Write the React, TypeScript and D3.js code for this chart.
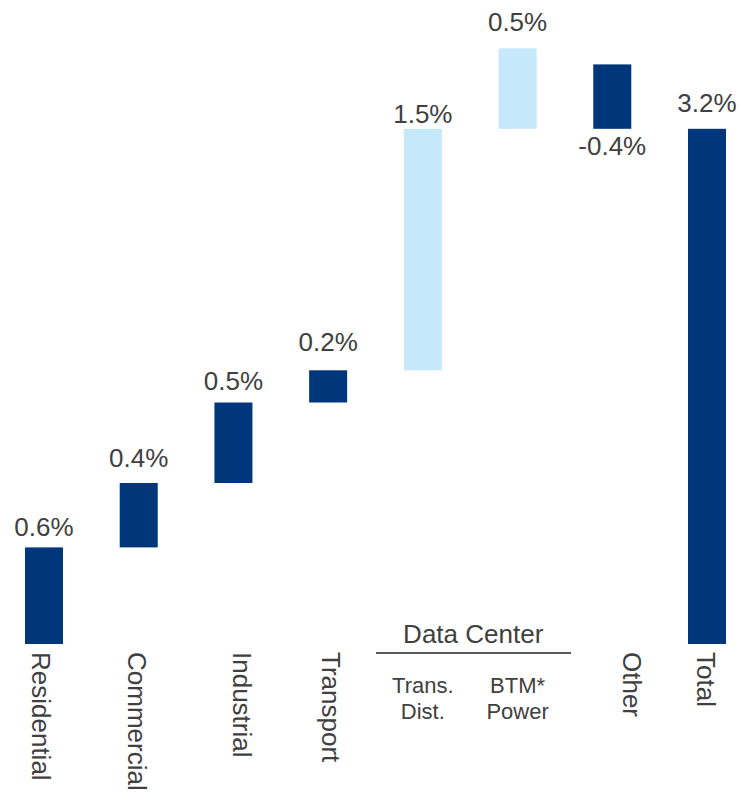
import { useEffect, useRef } from 'react';
import * as d3 from 'd3';

const categories = ['Residential', 'Commercial', 'Industrial', 'Transport', 'Trans. Dist.', 'BTM* Power', 'Other', 'Total'];
const values = [0.6, 0.4, 0.5, 0.2, 1.5, 0.5, -0.4, 3.2];
const valueLabels = ['0.6%', '0.4%', '0.5%', '0.2%', '1.5%', '0.5%', '-0.4%', '3.2%'];
const dataCenter = [false, false, false, false, true, true, false, false];
const rotatedLabels = ['Residential', 'Commercial', 'Industrial', 'Transport', '', '', 'Other', 'Total'];
const stackedLabels = [[], [], [], [], ['Trans.', 'Dist.'], ['BTM*', 'Power'], [], []];

// layout tweaks (pixels) for label placement
const labelGap = [11, 16, 13, 19, 6, 17, 26, 17];
const rotatedShift = [-12, -11, 0, -6, 0, 0, 11, -10];

const width = 741;
const height = 792;
const navy = '#00367A';
const lightBlue = '#C5E8FB';
const textColor = '#404040';
const font = '"Liberation Sans", Arial, sans-serif';

const App = () => {
  const svgRef = useRef<SVGSVGElement>(null);

  useEffect(() => {
    if (!svgRef.current) return;
    const svg = d3.select(svgRef.current);
    svg.selectAll('*').remove();

    const x = d3.scalePoint<string>().domain(categories).range([44, 707]);
    const y = d3.scaleLinear().domain([0, 4]).range([644, 0]);
    const barW = 38;

    // waterfall: running total; "Other" hangs from the total
    const total = values[values.length - 1];
    let run = 0;
    const bars = categories.map((c, i) => {
      const v = values[i];
      let y0: number, y1: number;
      if (i === categories.length - 1) {
        y0 = 0; y1 = v;
      } else if (v < 0) {
        y0 = total; y1 = total - v;
      } else {
        y0 = run; y1 = run + v;
        run += v;
      }
      return { c, v, y0, y1, label: valueLabels[i], dc: dataCenter[i], gap: labelGap[i] };
    });

    const g = svg.append('g').style('font-family', font);

    g.selectAll('.bar')
      .data(bars)
      .enter().append('rect')
      .attr('class', 'bar')
      .attr('x', d => (x(d.c) || 0) - barW / 2)
      .attr('y', d => y(Math.max(d.y0, d.y1)))
      .attr('width', barW)
      .attr('height', d => Math.abs(y(d.y0) - y(d.y1)))
      .attr('fill', d => (d.dc ? lightBlue : navy));

    g.selectAll('.val')
      .data(bars)
      .enter().append('text')
      .attr('class', 'val')
      .attr('x', d => x(d.c) || 0)
      .attr('y', d => (d.v < 0 ? y(Math.min(d.y0, d.y1)) + d.gap : y(Math.max(d.y0, d.y1)) - d.gap))
      .attr('text-anchor', 'middle')
      .attr('font-size', 26)
      .attr('fill', textColor)
      .text(d => d.label);

    // rotated category labels
    categories.forEach((c, i) => {
      if (!rotatedLabels[i]) return;
      const cx = (x(c) || 0) + rotatedShift[i];
      g.append('text')
        .attr('transform', `translate(${cx},652) rotate(90)`)
        .attr('font-size', 26)
        .attr('fill', textColor)
        .text(rotatedLabels[i]);
    });

    // data center sub labels
    categories.forEach((c, i) => {
      stackedLabels[i].forEach((t, j) => {
        g.append('text')
          .attr('x', x(c) || 0)
          .attr('y', 693 + j * 26)
          .attr('text-anchor', 'middle')
          .attr('font-size', 22)
          .attr('fill', textColor)
          .text(t);
      });
    });

    const dcCats = categories.filter((_, i) => dataCenter[i]);
    const dcMid = ((x(dcCats[0]) || 0) + (x(dcCats[dcCats.length - 1]) || 0)) / 2;
    g.append('text')
      .attr('x', dcMid + 3)
      .attr('y', 643)
      .attr('text-anchor', 'middle')
      .attr('font-size', 26)
      .attr('fill', textColor)
      .text('Data Center');
    g.append('line')
      .attr('x1', 376)
      .attr('x2', 571)
      .attr('y1', 653)
      .attr('y2', 653)
      .attr('stroke', '#595959')
      .attr('stroke-width', 2);
  }, []);

  return (
    <svg
      ref={svgRef}
      width={width}
      height={height}
      style={{ position: 'absolute', left: 0, top: 0, background: '#fff' }}
    />
  );
};

export default App;
